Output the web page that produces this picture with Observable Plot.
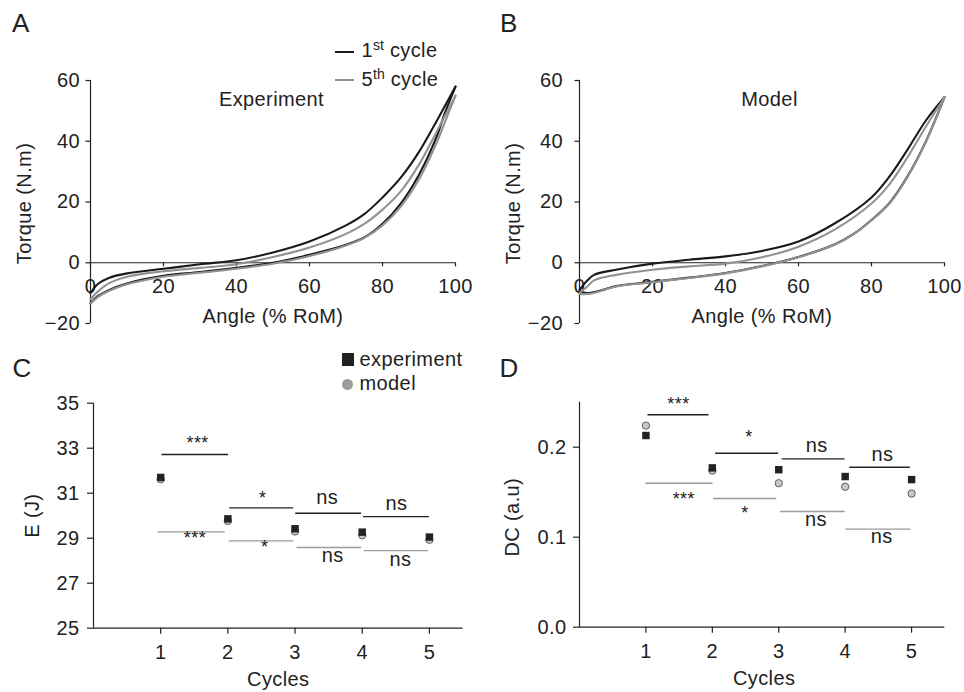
<!DOCTYPE html>
<html><head><meta charset="utf-8">
<script src="https://cdn.jsdelivr.net/npm/d3@7"></script>
<script src="https://cdn.jsdelivr.net/npm/@observablehq/plot@0.6"></script>
<style>
body{margin:0;background:#fff;}
#root{position:relative;width:964px;height:692px;font-family:"Liberation Sans",Arial,sans-serif;color:#222;overflow:hidden;background:#fff}
#root svg{position:absolute}
.lab{position:absolute;font-size:26px;line-height:26px}
.leg{position:absolute;font-size:20px;line-height:20px;white-space:nowrap;letter-spacing:0.4px}
.leg sup{font-size:14px;vertical-align:baseline;position:relative;top:-7px;letter-spacing:0}
.sw{position:absolute}
</style></head><body><div id="root"></div>
<script>
// ---------- data ----------
const angleTicks = [0, 20, 40, 60, 80, 100];
const torqueTicks = [-20, 0, 20, 40, 60];

// Experiment (panel A)
const expAngleLoad = [0, 2, 5, 10, 20, 30, 40, 50, 60, 70, 75, 80, 85, 90, 95, 100];
const exp1Load = [-10, -7, -5, -3.5, -2, -0.5, 0.8, 3.4, 7, 12.3, 16, 21.5, 28, 36.5, 47, 58];
const exp5Load = [-12, -9.5, -6.8, -4.6, -2.8, -1.7, -0.5, 1.9, 5, 9.5, 12.8, 17.5, 23.5, 32.3, 43.5, 55];
const expAngleUnload = [100, 97, 95, 90, 85, 80, 75, 70, 60, 50, 40, 30, 20, 10, 5, 2, 0];
const exp1Unload = [58, 49, 42, 29, 19.5, 12.8, 8.3, 5.9, 2.6, 0, -1.7, -3.1, -4.3, -6.8, -9, -11, -13.3];
const exp5Unload = [55, 46, 40, 27.5, 18.5, 12.3, 8.2, 5.7, 2.2, -0.3, -2.0, -3.3, -4.6, -7.1, -9.3, -11.3, -13.5];

// Model (panel B)
const modAngleLoad = [0, 2, 4, 10, 20, 30, 40, 50, 60, 70, 80, 85, 90, 95, 100];
const mod1Load = [-9, -6, -4, -2.3, -0.3, 1, 2.1, 3.9, 7, 13, 21.5, 28.5, 37.5, 47, 54.5];
const mod5Load = [-10, -8, -5.8, -4, -2.3, -1.2, -0.3, 1.8, 5.3, 11, 19.5, 26, 35, 45, 54.5];
const modAngleUnload = [100, 95, 90, 85, 80, 75, 70, 60, 50, 40, 30, 20, 10, 5, 2, 0];
const mod1Unload = [54.5, 40.2, 28.7, 19.8, 14.1, 9.4, 6.1, 1.9, -1.1, -3.4, -4.9, -6.3, -7.7, -9.4, -10, -9.5];
const mod5Unload = [54.5, 40, 28.5, 19.6, 14, 9.3, 6.0, 1.8, -1.2, -3.5, -5, -6.4, -7.8, -9.6, -10.3, -10.3];

// Panels C and D
const cycles = [1, 2, 3, 4, 5];
const eTicks = [25, 27, 29, 31, 33, 35];
const E_exp = [31.7, 29.86, 29.42, 29.27, 29.05];
const E_model = [31.62, 29.77, 29.3, 29.13, 28.93];
const dcTicks = [0, 0.1, 0.2];
const DC_exp = [0.213, 0.177, 0.175, 0.1674, 0.164];
const DC_model = [0.224, 0.174, 0.160, 0.156, 0.1485];

const sigLabels = ["***", "*", "ns", "ns"];
// E significance (experiment = black, model = gray)
const E_sigExpX1 = [1.02, 2.03, 3.01, 4.02], E_sigExpX2 = [2.01, 2.98, 3.99, 5.0];
const E_sigExpY = [32.72, 30.35, 30.11, 29.96];
const E_sigExpLabelX = [1.55, 2.52, 3.48, 4.51], E_sigExpLabelY = [33.24, 30.76, 30.82, 30.55];
const E_sigModX1 = [0.96, 2.02, 3.03, 4.03], E_sigModX2 = [1.96, 2.98, 3.99, 4.99];
const E_sigModY = [29.28, 28.88, 28.59, 28.45];
const E_sigModLabelX = [1.51, 2.55, 3.56, 4.57], E_sigModLabelY = [29.01, 28.61, 28.21, 28.06];
// DC significance
const DC_sigExpX1 = [1.03, 2.05, 3.05, 4.07], DC_sigExpX2 = [1.95, 3.0, 4.0, 4.98];
const DC_sigExpY = [0.236, 0.1933, 0.187, 0.1778];
const DC_sigExpLabelX = [1.49, 2.55, 3.57, 4.56], DC_sigExpLabelY = [0.2474, 0.2107, 0.2013, 0.1921];
const DC_sigModX1 = [1.0, 2.02, 3.03, 4.01], DC_sigModX2 = [2.01, 2.97, 4.0, 4.99];
const DC_sigModY = [0.16, 0.143, 0.1285, 0.109];
const DC_sigModLabelX = [1.57, 2.49, 3.56, 4.55], DC_sigModLabelY = [0.1422, 0.1263, 0.1199, 0.1007];

// ---------- helpers ----------
const FONT = "'Liberation Sans', Arial, sans-serif";
const INK = "#222", BLACK = "#1a1a1a", GRAY = "#929292", SIGGRAY = "#9a9a9a";
const baseStyle = {fontFamily: FONT, fontSize: "20px", color: INK, background: "transparent", overflow: "visible", letterSpacing: "0.4px"};
const rows = (xs, ys, series) => xs.map((x, i) => ({x, y: ys[i], series}));
const sigRows = (x1, x2, y, lx, ly) => x1.map((d, i) => ({x1: d, x2: x2[i], y: y[i], lx: lx[i], ly: ly[i], label: sigLabels[i]}));
const T = {lineAnchor: "middle", textAnchor: "middle", fontSize: 20};

function curvePanel(opts) {
  const {left, marginLeft, marginRight, black, gray, title, titleDx, tickPadding} = opts;
  const svg = Plot.plot({
    width: 482, height: 340,
    marginLeft, marginRight, marginTop: 80, marginBottom: 17,
    x: {domain: [0, 100], axis: null},
    y: {domain: [-20, 60]},
    style: baseStyle,
    marks: [
      Plot.ruleY([0], {stroke: INK, strokeWidth: 1.2}),
      Plot.ruleX([0], {stroke: INK, strokeWidth: 1.2}),
      Plot.axisY({ticks: torqueTicks, tickSize: 4.5, tickPadding, label: null, fontSize: 20, strokeWidth: 1.2}),
      Plot.ruleX(angleTicks, {x: d => d, y1: 0, y2: -1.35, stroke: INK, strokeWidth: 1.2}),
      Plot.text(angleTicks, {x: d => d, y: 0, dy: 23.4, text: d => String(d), ...T}),
      Plot.line(black, {x: "x", y: "y", z: "series", stroke: BLACK, strokeWidth: 2.1, curve: "catmull-rom"}),
      Plot.line(gray, {x: "x", y: "y", z: "series", stroke: GRAY, strokeWidth: 2.1, curve: "catmull-rom"}),
      Plot.text(["Angle (% RoM)"], {frameAnchor: "bottom", dy: -7, text: d => d, ...T}),
      Plot.text(["Torque (N.m)"], {frameAnchor: "left", dx: -66, dy: 1.5, rotate: -90, text: d => d, ...T}),
      Plot.text([title], {frameAnchor: "top", dy: 18.6, dx: titleDx, text: d => d, ...T})
    ]
  });
  svg.style.left = left + "px"; svg.style.top = "0px";
  return svg;
}

function cyclePanel(opts) {
  const {left, marginLeft, marginRight, marginTop, marginBottom, domain, ticks, fmt, tickPadding, exp, model, sigE, sigM, ylabel, ylabelDx, ylabelDy, xlabelDx} = opts;
  const allSig = sigE.concat(sigM);
  const svg = Plot.plot({
    width: 482, height: 352,
    marginLeft, marginRight, marginTop, marginBottom,
    x: {domain: [0, 5.5]},
    y: {domain},
    style: baseStyle,
    marks: [
      Plot.ruleX([0], {stroke: INK, strokeWidth: 1.2}),
      Plot.ruleY([domain[0]], {stroke: INK, strokeWidth: 1.2}),
      Plot.axisY({ticks, tickFormat: fmt, tickSize: 6, tickPadding, label: null, fontSize: 20, strokeWidth: 1.2}),
      Plot.axisX({ticks: cycles, tickFormat: d => String(d), tickSize: 6, tickPadding: 11, label: null, fontSize: 20, strokeWidth: 1.2}),
      Plot.ruleY(sigE, {x1: "x1", x2: "x2", y: "y", stroke: INK, strokeWidth: 1.4}),
      Plot.ruleY(sigM, {x1: "x1", x2: "x2", y: "y", stroke: SIGGRAY, strokeWidth: 1.4}),
      Plot.text(allSig.filter(d => d.label !== "ns"), {x: "lx", y: "ly", text: "label", ...T, fontSize: 18, fill: INK}),
      Plot.text(allSig.filter(d => d.label === "ns"), {x: "lx", y: "ly", text: "label", ...T, fill: INK}),
      Plot.dot(model, {x: "x", y: "y", r: 3.7, fill: "#c6c6c6", stroke: "#444", strokeWidth: 0.8}),
      Plot.dot(exp, {x: "x", y: "y", symbol: "square", r: 4.2, fill: INK, stroke: "none"}),
      Plot.text(["Cycles"], {frameAnchor: "bottom", dy: 51, dx: xlabelDx, text: d => d, ...T}),
      Plot.text([ylabel], {frameAnchor: "left", dx: ylabelDx, dy: ylabelDy, rotate: -90, text: d => d, ...T})
    ]
  });
  svg.style.left = left + "px"; svg.style.top = "340px";
  return svg;
}

const root = document.getElementById("root");

root.appendChild(curvePanel({
  left: 0, marginLeft: 90, marginRight: 27, tickPadding: 6,
  black: rows(expAngleLoad, exp1Load, "load1").concat(rows(expAngleUnload, exp1Unload, "unload1")),
  gray: rows(expAngleLoad, exp5Load, "load5").concat(rows(expAngleUnload, exp5Unload, "unload5")),
  title: "Experiment", titleDx: -1.5
}));
root.appendChild(curvePanel({
  left: 482, marginLeft: 97, marginRight: 20, tickPadding: 12,
  black: rows(modAngleLoad, mod1Load, "load1").concat(rows(modAngleUnload, mod1Unload, "unload1")),
  gray: rows(modAngleLoad, mod5Load, "load5").concat(rows(modAngleUnload, mod5Unload, "unload5")),
  title: "Model", titleDx: 7.5
}));
root.appendChild(cyclePanel({
  left: 0, marginLeft: 93, marginRight: 19.5, marginTop: 62.7, marginBottom: 64.3,
  domain: [25, 35], ticks: eTicks, fmt: d => String(d), tickPadding: 8,
  exp: rows(cycles, E_exp, "experiment"), model: rows(cycles, E_model, "model"),
  sigE: sigRows(E_sigExpX1, E_sigExpX2, E_sigExpY, E_sigExpLabelX, E_sigExpLabelY),
  sigM: sigRows(E_sigModX1, E_sigModX2, E_sigModY, E_sigModLabelX, E_sigModLabelY),
  ylabel: "E (J)", ylabelDx: -60.5, ylabelDy: 0, xlabelDx: 0
}));
root.appendChild(cyclePanel({
  left: 482, marginLeft: 97, marginRight: 19.7, marginTop: 61.7, marginBottom: 65.3,
  domain: [0, 0.25], ticks: dcTicks, fmt: d3.format(".1f"), tickPadding: 7,
  exp: rows(cycles, DC_exp, "experiment"), model: rows(cycles, DC_model, "model"),
  sigE: sigRows(DC_sigExpX1, DC_sigExpX2, DC_sigExpY, DC_sigExpLabelX, DC_sigExpLabelY),
  sigM: sigRows(DC_sigModX1, DC_sigModX2, DC_sigModY, DC_sigModLabelX, DC_sigModLabelY),
  ylabel: "DC (a.u)", ylabelDx: -67, ylabelDy: 2.5, xlabelDx: 2
}));

// ---------- panel letters and legends (HTML) ----------
function addDiv(cls, html, left, top, extra) {
  const d = document.createElement("div");
  d.className = cls; d.innerHTML = html;
  d.style.left = left + "px"; d.style.top = top + "px";
  if (extra) Object.assign(d.style, extra);
  root.appendChild(d);
  return d;
}
addDiv("lab", "A", 12, 9.7);
addDiv("lab", "B", 500, 9.7);
addDiv("lab", "C", 12.5, 354.7);
addDiv("lab", "D", 499.5, 354.7);

// legend A
addDiv("sw", "", 335, 50.7, {width: "18.5px", height: "2px", background: BLACK});
addDiv("leg", "1<sup>st</sup> cycle", 361.5, 40.4);
addDiv("sw", "", 335, 79, {width: "18.5px", height: "2px", background: GRAY});
addDiv("leg", "5<sup>th</sup> cycle", 361.5, 69.1);

// legend C
addDiv("sw", "", 341.7, 353.3, {width: "12.7px", height: "12.7px", background: INK});
addDiv("leg", "experiment", 359.5, 349.1);
addDiv("sw", "", 342, 378.7, {width: "11px", height: "11px", background: "#9c9c9c", borderRadius: "50%"});
addDiv("leg", "model", 359.5, 373.1);
</script>
</body></html>
